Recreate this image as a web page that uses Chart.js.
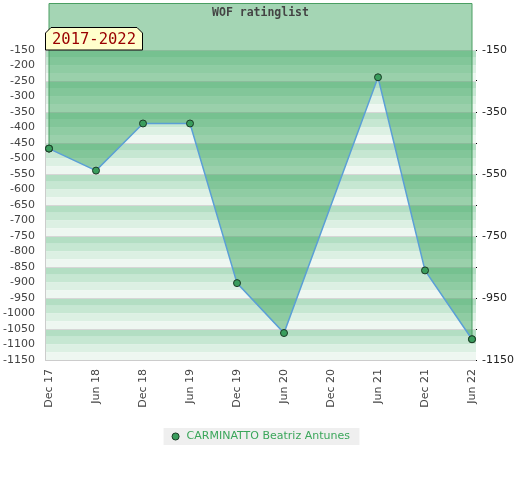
<!DOCTYPE html>
<html>
<head>
<meta charset="utf-8">
<title>WOF ratinglist</title>
<script src="https://cdn.jsdelivr.net/npm/chart.js@4.4.1/dist/chart.umd.min.js"></script>
<style>
  html, body { margin: 0; padding: 0; background: #fff; }
  #wrap { width: 520px; height: 480px; position: relative; }
</style>
</head>
<body>
<div id="wrap"><canvas id="chart"></canvas></div>
<script>
// Datos del gráfico
const periodos = ['Dec 17', 'Jun 18', 'Dec 18', 'Jun 19', 'Dec 19', 'Jun 20', 'Dec 20', 'Jun 21', 'Dec 21', 'Jun 22'];
const ranking = [-468, -539, -387, -387, -902, -1063, null, -238, -861, -1083];
const ticksIzq = [-1150, -1100, -1050, -1000, -950, -900, -850, -800, -750, -700, -650, -600, -550, -500, -450, -400, -350, -300, -250, -200, -150];
const ticksDer = [-1150, -1050, -950, -850, -750, -650, -550, -450, -350, -250, -150];
const etiquetasDer = [-1150, -950, -750, -550, -350, -150];
const jugador = 'CARMINATTO Beatriz Antunes';
const titulo = 'WOF ratinglist';
const periodoTexto = '2017-2022';

// Colores de las franjas (de más oscura a más clara en cada banda de 100)
const coloresFranja = ['#b3dec3', '#c6e7d2', '#dcf0e3', '#eef7f1'];
const pasoFranja = 25;

// Quitar el relleno automático que añaden las escalas
function sinPadding(scale) {
  scale.paddingTop = 0;
  scale.paddingBottom = 0;
  scale.paddingLeft = 0;
  scale.paddingRight = 0;
}

// Plugin para el fondo con franjas, rejilla y ejes
const fondoFranjas = {
  id: 'fondoFranjas',
  beforeDatasetsDraw(chart) {
    const { ctx, chartArea, scales: { y } } = chart;
    const x0 = chartArea.left - 4;
    const x1 = chartArea.right + 4;
    const arriba = ticksIzq[ticksIzq.length - 1];
    const abajo = ticksIzq[0];
    ctx.save();
    let i = 0;
    for (let v = arriba; v > abajo; v -= pasoFranja) {
      const ya = y.getPixelForValue(v);
      const yb = y.getPixelForValue(v - pasoFranja);
      ctx.fillStyle = coloresFranja[i % 4];
      ctx.fillRect(x0, ya, x1 - x0, yb - ya);
      i++;
    }
    // rejilla cada 100
    ctx.strokeStyle = '#d6d6d6';
    ctx.lineWidth = 1;
    ticksDer.forEach(v => {
      const py = Math.round(y.getPixelForValue(v)) + 0.5;
      ctx.beginPath();
      ctx.moveTo(x0, py);
      ctx.lineTo(x1, py);
      ctx.stroke();
    });
    // eje izquierdo e inferior
    const yTop = y.getPixelForValue(arriba);
    const yBot = Math.round(y.getPixelForValue(abajo)) + 0.5;
    ctx.strokeStyle = '#cccccc';
    ctx.beginPath();
    ctx.moveTo(x0 + 0.5, yTop);
    ctx.lineTo(x0 + 0.5, yBot);
    ctx.lineTo(x1, yBot);
    ctx.stroke();
    ctx.restore();
  },
  afterDatasetsDraw(chart) {
    const { ctx, chartArea } = chart;
    const pts = chart.getDatasetMeta(0).data;
    const primero = pts[0];
    const ultimo = pts[pts.length - 1];
    // borde del relleno
    ctx.save();
    ctx.strokeStyle = '#4a9e62';
    ctx.lineWidth = 1;
    ctx.beginPath();
    ctx.moveTo(primero.x, primero.y);
    ctx.lineTo(primero.x, chartArea.top);
    ctx.lineTo(ultimo.x, chartArea.top);
    ctx.lineTo(ultimo.x, ultimo.y);
    ctx.stroke();
    ctx.restore();
    // volver a dibujar los puntos encima del borde
    pts[0].draw(ctx, chartArea);
    pts[pts.length - 1].draw(ctx, chartArea);
  },
  afterDraw(chart) {
    const { ctx, chartArea, scales: { y } } = chart;
    ctx.save();
    // título
    ctx.font = 'bold 11.5px "DejaVu Sans Mono"';
    ctx.fillStyle = '#444';
    ctx.textAlign = 'center';
    ctx.textBaseline = 'middle';
    ctx.fillText(titulo, (chartArea.left + chartArea.right) / 2, chartArea.top + 9.5);

    // etiqueta del periodo
    const bx0 = chartArea.left - 4;
    const bx1 = bx0 + 98;
    const by1 = y.getPixelForValue(ticksIzq[ticksIzq.length - 1]);
    const by0 = by1 - 23;
    const corte = 6;
    ctx.beginPath();
    ctx.moveTo(bx0 + 0.5, by1);
    ctx.lineTo(bx0 + 0.5, by0 + corte);
    ctx.lineTo(bx0 + corte, by0 + 0.5);
    ctx.lineTo(bx1 - corte, by0 + 0.5);
    ctx.lineTo(bx1 - 0.5, by0 + corte);
    ctx.lineTo(bx1 - 0.5, by1);
    ctx.closePath();
    ctx.fillStyle = '#ffffcc';
    ctx.fill();
    ctx.strokeStyle = '#000';
    ctx.lineWidth = 1;
    ctx.stroke();
    ctx.font = '15.5px "DejaVu Sans Mono"';
    ctx.fillStyle = '#990000';
    ctx.fillText(periodoTexto, (bx0 + bx1) / 2, by0 + 12.5);
    ctx.restore();
  }
};

// Plugin para el fondo gris de la leyenda
const fondoLeyenda = {
  id: 'fondoLeyenda',
  beforeDraw(chart) {
    const leg = chart.legend;
    if (!leg || !leg.legendHitBoxes.length) return;
    const hb = leg.legendHitBoxes[0];
    const { ctx } = chart;
    ctx.save();
    ctx.fillStyle = '#efefef';
    ctx.fillRect(hb.left - 6.5, hb.top - 3, hb.width + 16, hb.height + 6);
    ctx.restore();
  }
};

const ctx = document.getElementById('chart').getContext('2d');

new Chart(ctx, {
  type: 'line',
  data: {
    labels: periodos,
    datasets: [{
      label: jugador,
      data: ranking,
      spanGaps: true,
      fill: 'end',
      backgroundColor: 'rgba(27, 149, 68, 0.4)',
      borderColor: '#5b9fd6',
      borderWidth: 1.5,
      tension: 0,
      pointRadius: 3.5,
      pointBackgroundColor: '#3a9d5d',
      pointBorderColor: '#1b3b26',
      pointBorderWidth: 1
    }]
  },
  options: {
    responsive: true,
    maintainAspectRatio: false,
    animation: false,
    layout: {
      autoPadding: false,
      padding: { top: 3.5, bottom: 28, left: 0, right: 0 }
    },
    plugins: {
      title: { display: false },
      tooltip: { enabled: false },
      legend: {
        display: true,
        position: 'bottom',
        labels: {
          usePointStyle: true,
          pointStyle: 'circle',
          boxWidth: 11,
          boxHeight: 5,
          padding: 10,
          color: '#3aa65a',
          font: { family: '"DejaVu Sans"', size: 11 },
          generateLabels(chart) {
            return chart.data.datasets.map((ds, i) => ({
              text: ds.label,
              fillStyle: '#3a9d5d',
              strokeStyle: '#1b3b26',
              lineWidth: 1,
              pointStyle: 'circle',
              fontColor: '#3aa65a',
              datasetIndex: i
            }));
          }
        }
      }
    },
    scales: {
      x: {
        type: 'category',
        offset: false,
        grid: { display: false, drawTicks: false },
        border: { display: false },
        ticks: {
          autoSkip: false,
          minRotation: 90,
          maxRotation: 90,
          padding: 9,
          color: '#444',
          font: { family: '"DejaVu Sans"', size: 11 }
        },
        afterFit(scale) { scale.height = 61; sinPadding(scale); }
      },
      y: {
        position: 'left',
        min: -1150,
        max: 0,
        grid: { display: false, drawTicks: false },
        border: { display: false },
        afterBuildTicks(scale) {
          scale.ticks = ticksIzq.map(v => ({ value: v }));
        },
        ticks: {
          padding: 14,
          color: '#444',
          font: { family: '"DejaVu Sans"', size: 11 },
          callback: v => String(v)
        },
        afterFit(scale) { scale.width = 49; sinPadding(scale); }
      },
      y2: {
        position: 'right',
        min: -1150,
        max: 0,
        grid: { display: true, drawOnChartArea: false, drawTicks: true, tickLength: 5, tickColor: '#000' },
        border: { display: false },
        afterBuildTicks(scale) {
          scale.ticks = ticksDer.map(v => ({ value: v }));
        },
        ticks: {
          padding: 5,
          color: '#222',
          font: { family: '"DejaVu Sans"', size: 11 },
          callback: v => etiquetasDer.includes(v) ? String(v) : ''
        },
        afterFit(scale) { scale.width = 48; sinPadding(scale); }
      }
    }
  },
  plugins: [fondoFranjas, fondoLeyenda]
});
</script>
</body>
</html>
